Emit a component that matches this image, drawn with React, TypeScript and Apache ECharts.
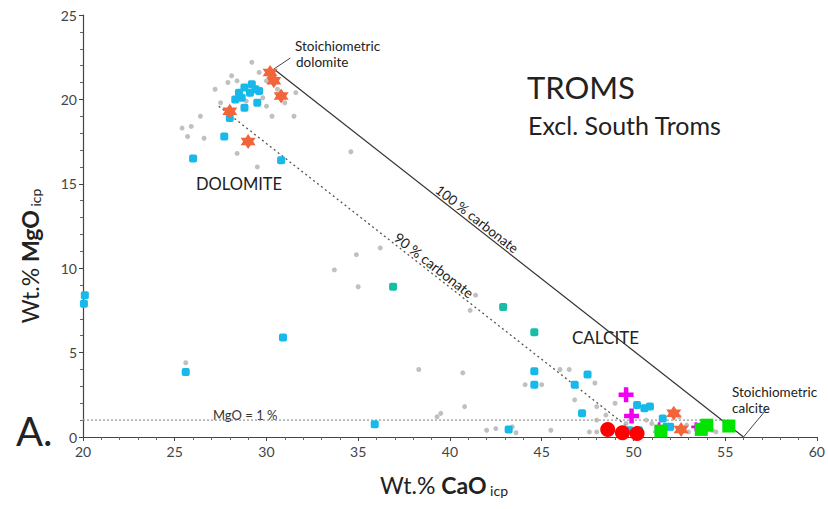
import React, { useEffect, useRef } from "react";
import * as echarts from "echarts";

const xTicks = [20, 25, 30, 35, 40, 45, 50, 55, 60];
const yTicks = [0, 5, 10, 15, 20, 25];

const grayPts: number[][] = [
  [29.2, 22.2], [28.1, 21.4], [28.4, 21.1], [30.0, 21.1], [27.5, 19.8], [29.8, 20.1], [30.0, 19.6],
  [30.3, 19.0], [31.5, 19.0], [25.9, 18.4], [25.7, 17.8], [26.6, 17.7], [28.4, 16.8], [29.5, 16.0],
  [27.9, 21.0], [29.6, 21.6], [30.6, 20.6], [27.2, 20.6], [28.9, 19.9], [26.4, 19.0], [31.0, 19.8],
  [31.6, 20.4], [25.4, 18.3],
  [34.6, 16.9], [34.9, 10.8], [36.2, 11.2], [33.7, 9.9], [35.0, 8.9], [41.4, 8.4], [41.1, 7.5],
  [38.3, 4.0], [40.7, 3.8], [40.8, 1.8], [39.3, 1.2], [39.5, 1.4], [44.1, 3.1], [45.0, 3.1],
  [42.5, 0.5], [43.6, 0.25], [43.4, 0.6], [46.0, 4.0], [46.5, 4.0], [47.9, 3.2], [48.0, 1.8],
  [48.0, 1.0], [47.6, 0.3], [48.0, 0.3], [49.6, 0.8], [51.0, 0.8], [51.2, 0.3], [52.1, 0.5],
  [52.9, 0.7], [53.5, 0.5], [54.3, 0.4], [54.5, 0.3], [48.5, 1.3], [49.0, 2.0], [50.7, 1.0],
  [52.5, 1.2], [53.0, 0.3], [46.8, 2.2], [45.5, 0.4], [42.0, 0.4], [25.6, 4.4],
];

const cyanPts: number[][] = [
  [28.5, 20.4], [28.8, 20.7], [29.2, 20.9], [29.4, 20.6], [28.65, 20.1], [29.5, 19.8], [28.8, 19.5],
  [28.0, 18.9], [27.7, 17.8], [26.0, 16.5], [30.8, 16.4], [29.1, 20.4], [29.6, 20.5], [28.3, 20.0],
  [20.1, 8.4], [20.05, 7.9], [25.6, 3.85], [30.9, 5.9], [35.9, 0.75], [43.2, 0.45], [44.6, 3.9],
  [44.6, 3.1], [47.5, 3.7], [46.8, 3.1], [47.2, 1.4], [50.2, 1.9], [50.6, 1.7], [50.9, 1.8],
  [49.8, 0.4], [50.3, 0.4], [51.6, 1.1], [51.8, 0.6], [52.0, 0.6], [53.6, 0.6],
];

const tealPts: number[][] = [[36.9, 8.9], [42.9, 7.7], [44.6, 6.2]];

const orangeStars: number[][] = [
  [30.2, 21.6], [30.4, 21.1], [30.8, 20.2], [28.0, 19.3], [29.0, 17.5], [52.2, 1.4], [52.6, 0.45],
];

const redCircles: number[][] = [[48.6, 0.45], [49.4, 0.25], [50.2, 0.2]];
const greenSquares: number[][] = [[51.5, 0.35], [53.7, 0.45], [54.0, 0.7], [55.2, 0.65]];
const magentaBig: number[][] = [[49.6, 2.5], [49.9, 1.25]];
const magentaSmall: number[][] = [[51.4, 0.6], [53.4, 0.6]];

const line100: number[][] = [[30.4, 21.8], [56, 0]];
const line90: number[][] = [[27.4, 19.6], [50.4, 0]];
const lineMgO1: number[][] = [[20, 1], [55.2, 1]];
const pointerDol: number[][] = [[30.4, 21.8], [31.3, 22.45]];
const pointerCal: number[][] = [[56, 0], [57.3, 1.7]];

const STAR =
  "path://M0,-10 L2.9,-5 L8.66,-5 L5.8,0 L8.66,5 L2.9,5 L0,10 L-2.9,5 L-8.66,5 L-5.8,0 L-8.66,-5 L-2.9,-5 Z";
const PLUS =
  "path://M-3,-10 L3,-10 L3,-3 L10,-3 L10,3 L3,3 L3,10 L-3,10 L-3,3 L-10,3 L-10,-3 L-3,-3 Z";

const FONT = "Lato, 'Open Sans', sans-serif";

export default function App() {
  const ref = useRef<HTMLDivElement>(null);
  useEffect(() => {
    if (!ref.current) return;
    const chart = echarts.init(ref.current, null, { renderer: "svg" });
    const lineSeries = (data: number[][], color: string, type: any, width: number) => ({
      type: "line",
      data,
      showSymbol: false,
      symbol: "none",
      silent: true,
      lineStyle: { color, type, width },
      z: 1,
    });
    const scat = (data: number[][], symbol: string, size: number, color: string, z: number, opacity = 1) => ({
      type: "scatter",
      data,
      symbol,
      symbolSize: size,
      itemStyle: { color, opacity },
      z,
    });
    const t = (text: string, x: number, y: number, fontSize: number, fill = "#222") => ({
      type: "text",
      x,
      y,
      style: { text, fontSize, fontFamily: FONT, fill },
    });
    const titleRich = {
      n: { fontSize: 23, fontFamily: FONT, fill: "#222", color: "#222" },
      b: { fontSize: 23, fontFamily: FONT, fontWeight: "bold", fill: "#222", color: "#222" },
      s: { fontSize: 14, fontFamily: FONT, fill: "#222", color: "#222", padding: [10, 0, 0, 0] },
    };
    chart.setOption({
      animation: false,
      backgroundColor: "#ffffff",
      grid: { left: 83, right: 11, top: 15, bottom: 72, containLabel: false },
      xAxis: {
        type: "value",
        min: 20,
        max: 60,
        interval: 5,
        axisLine: { show: true, lineStyle: { color: "#444", width: 1.2 } },
        axisTick: { show: true, length: 4, lineStyle: { color: "#444" } },
        minorTick: { show: true, splitNumber: 5, length: 3, lineStyle: { color: "#666" } },
        splitLine: { show: false },
        axisLabel: {
          color: "#444",
          fontSize: 14,
          fontFamily: FONT,
          margin: 7,
          formatter: (v: number) => (xTicks.includes(v) ? String(v) : ""),
        },
      },
      yAxis: {
        type: "value",
        min: 0,
        max: 25,
        interval: 5,
        axisLine: { show: true, lineStyle: { color: "#444", width: 1.2 } },
        axisTick: { show: true, length: 4, lineStyle: { color: "#444" } },
        minorTick: { show: true, splitNumber: 5, length: 3, lineStyle: { color: "#666" } },
        splitLine: { show: false },
        axisLabel: {
          color: "#444",
          fontSize: 14,
          fontFamily: FONT,
          margin: 6,
          formatter: (v: number) => (yTicks.includes(v) ? String(v) : ""),
        },
      },
      series: [
        lineSeries(lineMgO1, "#9a9a9a", [2, 2], 1.2),
        lineSeries(line90, "#555", [2, 3], 1.3),
        lineSeries(line100, "#333", "solid", 1.2),
        lineSeries(pointerDol, "#444", "solid", 1),
        lineSeries(pointerCal, "#444", "solid", 1),
        scat(grayPts, "circle", 5, "#b0b0b0", 2, 0.8),
        scat(cyanPts, "roundRect", 8, "#16b9ea", 3),
        scat(tealPts, "roundRect", 8, "#16bda8", 3),
        scat(orangeStars, STAR, 15, "#f2643a", 4),
        scat(magentaSmall, PLUS, 9, "#f000f0", 4),
        scat(greenSquares, "rect", 13, "#00e400", 5),
        scat(redCircles, "circle", 15, "#ff0000", 5),
        scat(magentaBig, PLUS, 15, "#f000f0", 5),
      ],
      graphic: [
        t("TROMS", 527, 71, 31),
        t("Excl. South Troms", 528, 112, 25),
        t("DOLOMITE", 196, 175, 16.5),
        t("CALCITE", 572, 329, 17),
        t("Stoichiometric", 295, 39, 13.5),
        t("dolomite", 296, 55, 13.5),
        t("Stoichiometric", 732, 385, 13.5),
        t("calcite", 732, 401, 13.5),
        t("MgO = 1 %", 213, 408, 13, "#333"),
        t("A.", 16, 411, 40),
        {
          type: "text",
          x: 477,
          y: 219,
          rotation: (-38 * Math.PI) / 180,
          style: { text: "100 % carbonate", fontSize: 13.5, fontFamily: FONT, fill: "#222", textAlign: "center", textVerticalAlign: "middle" },
        },
        {
          type: "text",
          x: 434,
          y: 265,
          rotation: (-38 * Math.PI) / 180,
          style: { text: "90 % carbonate", fontSize: 14, fontFamily: FONT, fill: "#222", textAlign: "center", textVerticalAlign: "middle" },
        },
        {
          type: "text",
          x: 444,
          y: 485,
          style: {
            text: "{n|Wt.% }{b|CaO}{s| icp}",
            textAlign: "center",
            textVerticalAlign: "middle",
            rich: titleRich,
          },
        },
        {
          type: "text",
          x: 30,
          y: 256,
          rotation: Math.PI / 2,
          style: {
            text: "{n|Wt.% }{b|MgO}{s| icp}",
            textAlign: "center",
            textVerticalAlign: "middle",
            rich: titleRich,
          },
        },
      ],
    });
    return () => chart.dispose();
  }, []);
  return (
    <div
      ref={ref}
      style={{ position: "fixed", left: 0, top: 0, width: 828, height: 509, background: "#fff" }}
    />
  );
}
